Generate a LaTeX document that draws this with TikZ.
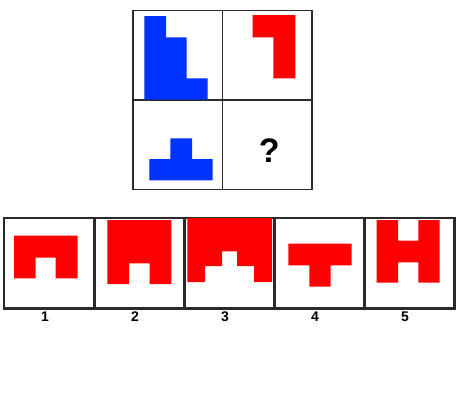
\documentclass[tikz,border=0pt]{standalone}
\usepackage{fontspec}
\setmainfont{Liberation Sans}
\usepackage{tikz}
\usepackage{xcolor}
\usetikzlibrary{positioning}
\definecolor{frame}{HTML}{2A2A2A}
\definecolor{puzblue}{HTML}{0033FF}
\definecolor{puzred}{HTML}{FF0000}
\tikzset{
  cell/.style={draw=frame, line width=1.5pt, minimum width=89.5pt,
               minimum height=89.5pt, inner sep=0pt},
  optbox/.style={draw=frame, line width=1.5pt, minimum width=90pt,
                 minimum height=90pt, inner sep=0pt},
  optlabel/.style={font=\fontsize{14}{14}\selectfont\bfseries, inner sep=2.6pt},
  qmark/.style={font=\fontsize{34}{34}\selectfont\bfseries, inner sep=0pt},
  blueshape/.style={fill=puzblue},
  redshape/.style={fill=puzred}
}

\begin{document}
\begin{tikzpicture}[x=1pt,y=-1pt]
    \useasboundingbox (0,0) rectangle (458,416);

    % 2x2 matrix
    \node[cell] (c11) at (177.5,55) {};
    \node[cell] (c12) at (267,55) {};
    \node[cell] (c21) at (177.5,144.5) {};
    \node[cell] (c22) at (267,144.5) {};

    \fill[blueshape] (144.3,16) -- (166,16) -- (166,37.3) -- (186.7,37.3) -- (186.7,78.3)
      -- (207.7,78.3) -- (207.7,99.7) -- (144.3,99.7) -- cycle;
    \fill[redshape] (252.7,15) -- (295.3,15) -- (295.3,78.3) -- (273.3,78.3)
      -- (273.3,37.3) -- (252.7,37.3) -- cycle;
    \fill[blueshape] (170.3,138.3) -- (192,138.3) -- (192,159) -- (212.7,159)
      -- (212.7,180.3) -- (149.3,180.3) -- (149.3,159) -- (170.3,159) -- cycle;
    \node[qmark] (q) at ([shift={(2.3,6.2)}]c22.center) {?};

    % answer options
    \foreach \i in {1,...,5} {
      \pgfmathsetmacro{\xx}{49+(\i-1)*90}
      \node[optbox] (opt\i) at (\xx,263) {};
      \node[optlabel, below=0pt of opt\i, xshift=-4pt] (lab\i) {\i};
    }

    \fill[redshape] (14,235.7) -- (77.7,235.7) -- (77.7,278.3) -- (55.7,278.3)
      -- (55.7,257.7) -- (35.7,257.7) -- (35.7,278.3) -- (14,278.3) -- cycle;
    \fill[redshape] (107.3,220) -- (171.3,220) -- (171.3,284) -- (149.7,284)
      -- (149.7,263.3) -- (129,263.3) -- (129,284) -- (107.3,284) -- cycle;
    \fill[redshape] (187.3,218) -- (272,218) -- (272,282) -- (254,282) -- (254,266)
      -- (237,266) -- (237,251.3) -- (222,251.3) -- (222,266) -- (205,266)
      -- (205,282) -- (187.3,282) -- cycle;
    \fill[redshape] (288.3,243.7) -- (351.7,243.7) -- (351.7,265.3) -- (330.7,265.3)
      -- (330.7,286.7) -- (309.3,286.7) -- (309.3,265.3) -- (288.3,265.3) -- cycle;
    \fill[redshape] (376.7,220) -- (398,220) -- (398,240.7) -- (418.3,240.7)
      -- (418.3,220) -- (439.7,220) -- (439.7,282.7) -- (418.3,282.7) -- (418.3,262.3)
      -- (398,262.3) -- (398,282.7) -- (376.7,282.7) -- cycle;

    % redraw option frames over the shapes
    \foreach \i in {1,...,5} {
      \draw[draw=frame, line width=1.5pt] (opt\i.north west) rectangle (opt\i.south east);
    }
  \end{tikzpicture}
\end{document}
